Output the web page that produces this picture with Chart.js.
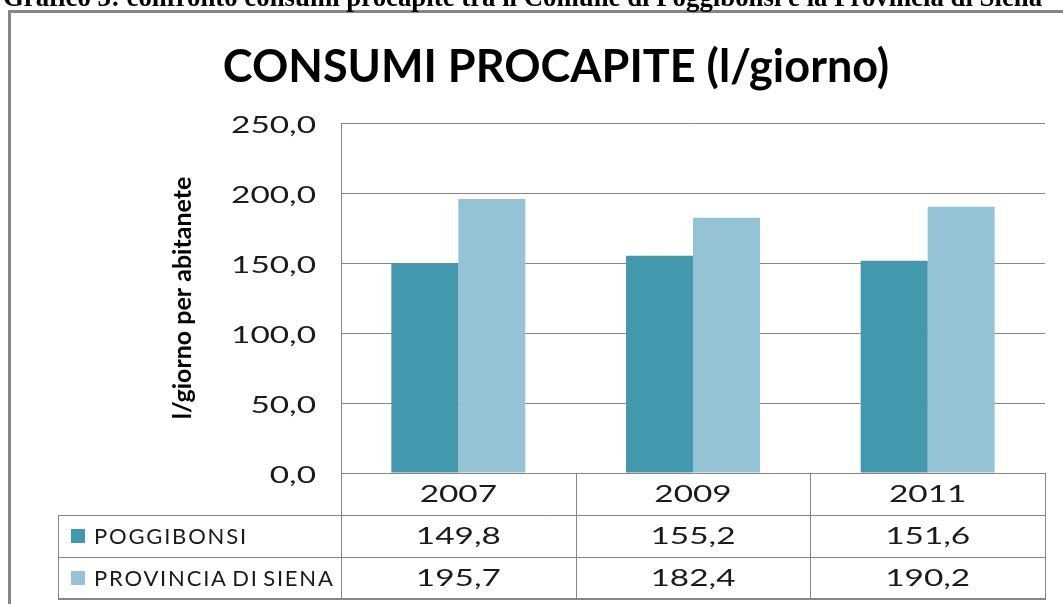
<!DOCTYPE html>
<html>
<head>
<meta charset="utf-8">
<script src="https://cdn.jsdelivr.net/npm/chart.js@4/dist/chart.umd.min.js"></script>
<style>
  html, body { margin: 0; padding: 0; background: #fff; overflow: hidden; }
  #wrap { position: relative; width: 1063px; height: 604px; }
  #header {
    position: absolute; left: 3px; top: -16.5px; white-space: nowrap;
    font-family: "Liberation Serif", "Times New Roman", serif; font-weight: bold;
    font-size: 26.8px; line-height: 26.8px; color: #000;
  }
  canvas { position: absolute; left: 0; top: 0; }
</style>
</head>
<body>
<div id="wrap">
  <canvas id="c" width="1063" height="604"></canvas>
  <div id="header">Grafico 3: confronto consumi procapite tra il Comune di Poggibonsi e la Provincia di Siena</div>
</div>
<script>
// ---- data ----
const categories = ['2007', '2009', '2011'];
const poggibonsi = [149.8, 155.2, 151.6];
const provinciaSiena = [195.7, 182.4, 190.2];
const seriesNames = ['POGGIBONSI', 'PROVINCIA DI SIENA'];
const yMin = 0, yMax = 250, yStep = 50;
const chartTitle = 'CONSUMI PROCAPITE (l/giorno)';
const yTitle = 'l/giorno per abitanete';

const colors = ['#4398AE', '#93C3D5'];
const lineGray = '#868686';
const textColor = '#1a1a1a';
const stretch = 1.45;          // horizontal stretch of the original's small text
const numFont = '23px Lato';
const fmt = v => Number(v).toFixed(1).replace('.', ',');

function stretchedText(ctx, text, x, y, align) {
  ctx.save();
  ctx.translate(x, y);
  ctx.scale(stretch, 1);
  ctx.textAlign = align;
  ctx.fillText(text, 0, 0);
  ctx.restore();
}

const boxPlugin = {
  id: 'box',
  beforeDraw(chart) {
    const ctx = chart.ctx;
    ctx.save();
    ctx.strokeStyle = lineGray;
    ctx.lineWidth = 3;
    ctx.beginPath();
    ctx.moveTo(9.5, 700);
    ctx.lineTo(9.5, 11.5);
    ctx.lineTo(1100, 11.5);
    ctx.stroke();
    // chart title
    ctx.fillStyle = '#000';
    ctx.font = 'bold 45px Lato';
    ctx.textAlign = 'center';
    ctx.textBaseline = 'alphabetic';
    ctx.fillText(chartTitle, 556, 81.5);
    ctx.restore();
  }
};

const tablePlugin = {
  id: 'dataTable',
  afterDraw(chart) {
    const ctx = chart.ctx;
    const xs = chart.scales.x;
    const ys = chart.scales.y;
    const area = chart.chartArea;
    const n = categories.length;
    const catW = (xs.getPixelForValue(1) - xs.getPixelForValue(0));
    const right = area.right;
    const top = area.bottom;
    const rowH = 42;
    const tableLeft = 58;
    const rows = [top + rowH, top + 2 * rowH, top + 3 * rowH];
    ctx.save();

    // y tick labels from the library's scale
    ctx.fillStyle = textColor;
    ctx.font = numFont;
    ctx.textBaseline = 'middle';
    ys.ticks.forEach(t => {
      stretchedText(ctx, fmt(t.value), area.left - 25, ys.getPixelForValue(t.value) + 3, 'right');
    });

    ctx.strokeStyle = lineGray;
    ctx.lineWidth = 1;
    ctx.beginPath();
    for (let i = 0; i <= n; i++) {
      const x = Math.round(xs.getPixelForValue(i) - catW / 2) + 0.5;
      ctx.moveTo(x, top);
      ctx.lineTo(x, rows[2]);
    }
    ctx.moveTo(tableLeft + 0.5, rows[0]);
    ctx.lineTo(tableLeft + 0.5, rows[2]);
    ctx.moveTo(tableLeft, Math.round(rows[0]) + 0.5);
    ctx.lineTo(right, Math.round(rows[0]) + 0.5);
    ctx.moveTo(tableLeft, Math.round(rows[1]) + 0.5);
    ctx.lineTo(right, Math.round(rows[1]) + 0.5);
    ctx.stroke();
    ctx.lineWidth = 2;
    ctx.beginPath();
    ctx.moveTo(tableLeft, Math.round(rows[2]));
    ctx.lineTo(right + 1, Math.round(rows[2]));
    ctx.stroke();

    // category labels and values
    ctx.fillStyle = textColor;
    ctx.font = numFont;
    ctx.textBaseline = 'middle';
    const series = [poggibonsi, provinciaSiena];
    for (let i = 0; i < n; i++) {
      const cx = xs.getPixelForValue(i);
      stretchedText(ctx, categories[i], cx, top + rowH / 2 + 1, 'center');
      for (let s = 0; s < series.length; s++) {
        stretchedText(ctx, fmt(series[s][i]), cx, rows[s] + rowH / 2 + 1, 'center');
      }
    }
    // legend keys
    ctx.textAlign = 'left';
    ctx.font = '22px Lato';
    try { ctx.letterSpacing = '1.8px'; ctx.wordSpacing = '-3px'; } catch (e) {}
    for (let s = 0; s < seriesNames.length; s++) {
      const cy = rows[s] + rowH / 2;
      ctx.fillStyle = colors[s];
      ctx.fillRect(71, Math.round(cy - 7), 14, 14);
      ctx.fillStyle = textColor;
      ctx.fillText(seriesNames[s], 94, cy + 1);
    }
    try { ctx.letterSpacing = '0px'; ctx.wordSpacing = '0px'; } catch (e) {}
    ctx.restore();
  }
};

new Chart(document.getElementById('c'), {
  type: 'bar',
  data: {
    labels: categories,
    datasets: [
      { label: seriesNames[0], data: poggibonsi, backgroundColor: colors[0], borderWidth: 0 },
      { label: seriesNames[1], data: provinciaSiena, backgroundColor: colors[1], borderWidth: 0 }
    ]
  },
  options: {
    responsive: false,
    animation: false,
    events: [],
    layout: { padding: { left: 168, right: 18, top: 123, bottom: 131 } },
    datasets: { bar: { categoryPercentage: 0.571, barPercentage: 1 } },
    plugins: {
      legend: { display: false },
      tooltip: { enabled: false },
      title: { display: false }
    },
    scales: {
      x: { display: false },
      y: {
        min: yMin, max: yMax,
        ticks: { stepSize: yStep, display: false },
        grid: { color: lineGray, lineWidth: 1, drawTicks: false },
        border: { display: true, color: lineGray, width: 1 },
        title: {
          display: true,
          text: yTitle,
          color: '#000',
          font: { family: 'Lato', weight: 'bold', size: 25 },
          padding: { top: 0, bottom: 0 }
        },
        afterFit(scale) { scale.width = 341 - 168; }
      }
    }
  },
  plugins: [boxPlugin, tablePlugin]
});
</script>
</body>
</html>
